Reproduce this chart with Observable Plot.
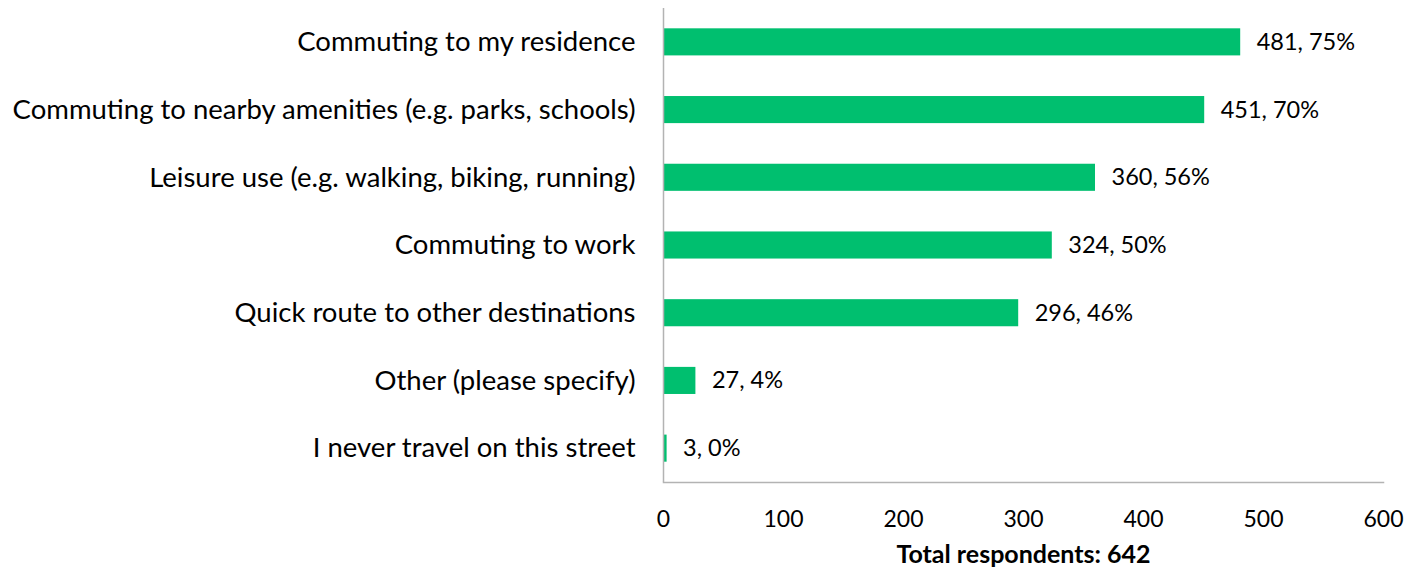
<!DOCTYPE html>
<html><head><meta charset="utf-8">
<script src="https://cdn.jsdelivr.net/npm/d3@7"></script>
<script src="https://cdn.jsdelivr.net/npm/@observablehq/plot@0.6"></script>
<style>
body{margin:0;background:#fff;}
#chart svg{font-family:Lato,"Open Sans",sans-serif;}
</style></head>
<body><div id="chart"></div>
<script>
const categories = ["Commuting to my residence","Commuting to nearby amenities (e.g. parks, schools)","Leisure use (e.g. walking, biking, running)","Commuting to work","Quick route to other destinations","Other (please specify)","I never travel on this street"];
const counts = [481,451,360,324,296,27,3];
const percents = ["75%","70%","56%","50%","46%","4%","0%"];
const xTicks = [0,100,200,300,400,500,600];
const caption = "Total respondents: 642";

const data = categories.map((c,i)=>({cat:c, n:counts[i], label: counts[i]+", "+percents[i]}));

const chart = Plot.plot({
  width:1420, height:571,
  marginLeft:663, marginRight:37, marginTop:8, marginBottom:89,
  style:{fontSize:"24px", fontFamily:"Lato, 'Open Sans', sans-serif", color:"#000", background:"#fff"},
  x:{domain:[0,600], ticks:xTicks, label:null},
  y:{domain:categories, paddingInner:0.6, paddingOuter:0.3, round:false, label:null},
  marks:[
    Plot.barX(data,{y:"cat", x:"n", fill:"#00BF6F"}),
    Plot.text(data,{y:"cat", x:"n", text:"label", textAnchor:"start", dx:16, fontSize:23.5, fill:"#000"}),
    Plot.ruleX([0],{stroke:"#b3b3b3", strokeWidth:1.5}),
    Plot.frame({anchor:"bottom", stroke:"#b3b3b3", strokeWidth:1.5}),
    Plot.axisX({ticks:xTicks, tickSize:0, tickPadding:28, fontSize:23, label:null}),
    Plot.axisY({tickSize:0, tickPadding:28, fontSize:27.5, label:null}),
    Plot.text([caption],{text:d=>d, x:300, frameAnchor:"bottom", lineAnchor:"middle", dy:72, fontWeight:"bold", fontSize:25, fill:"#000"})
  ]
});
document.getElementById("chart").appendChild(chart);
</script></body></html>
